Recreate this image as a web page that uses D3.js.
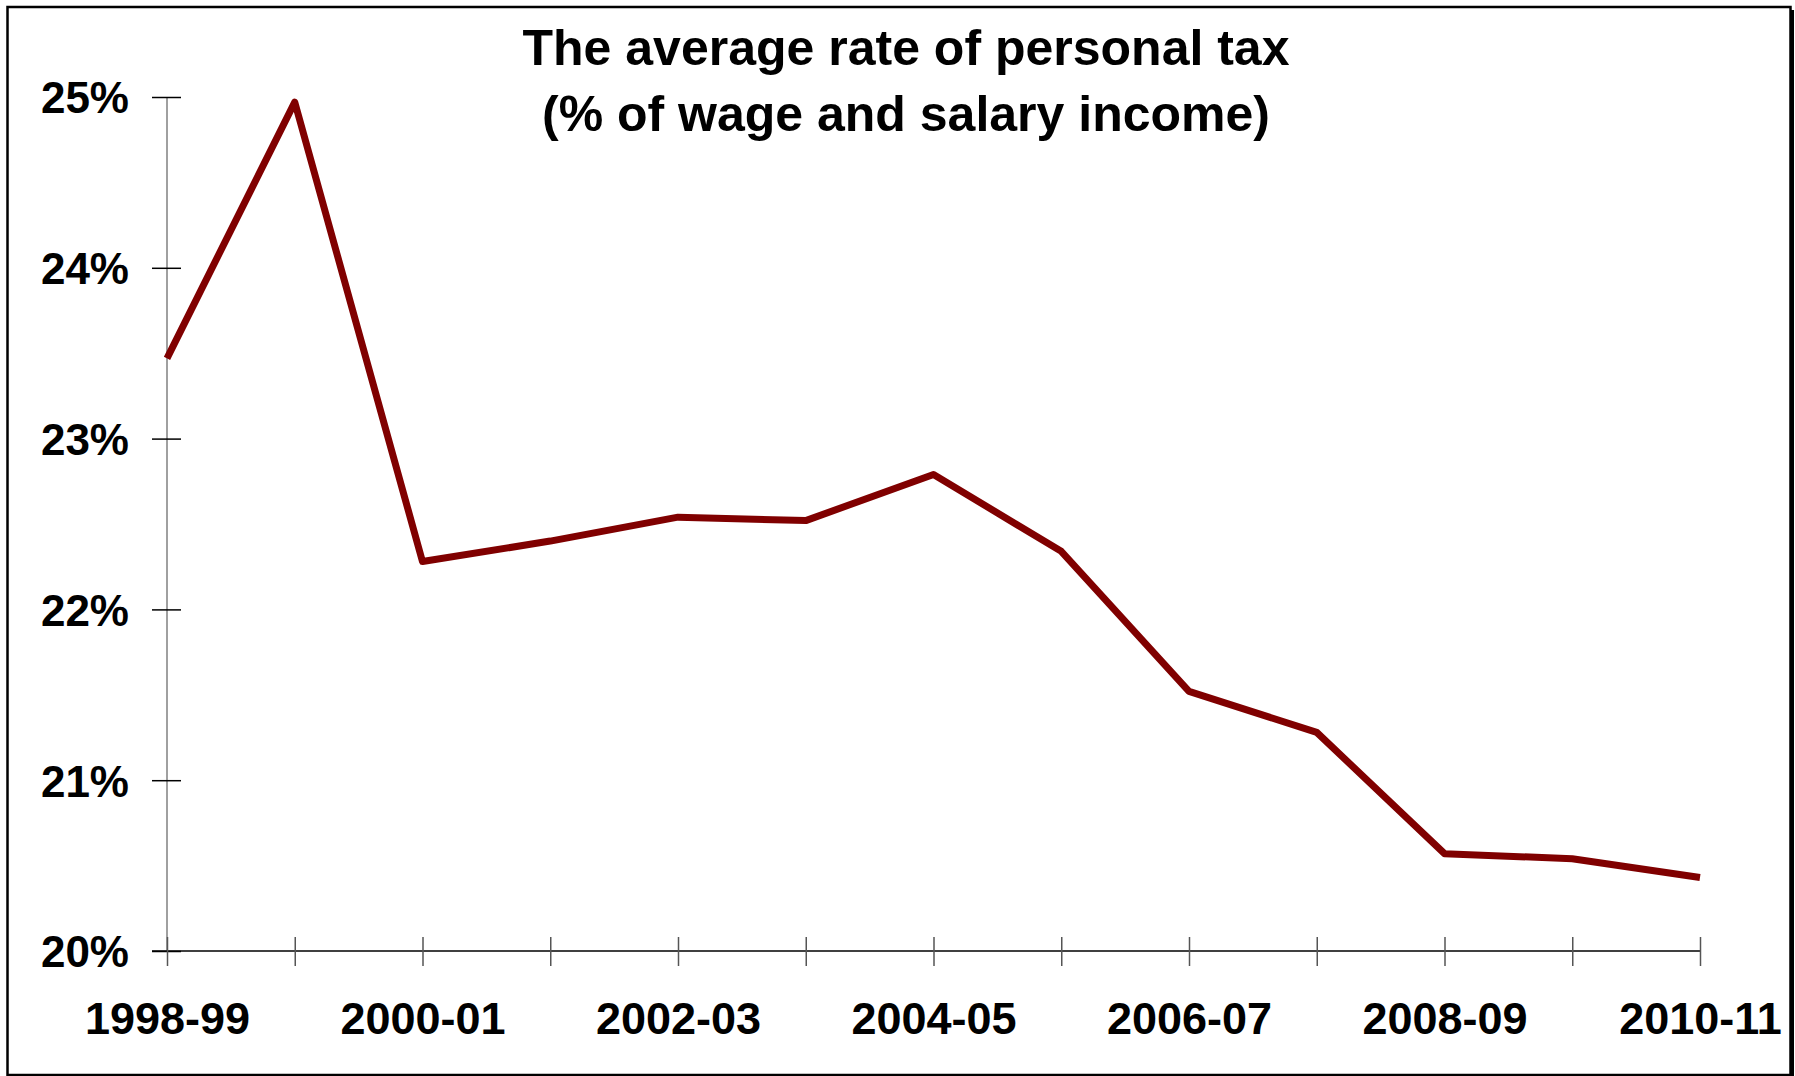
<!DOCTYPE html>
<html>
<head>
<meta charset="utf-8">
<script src="https://cdn.jsdelivr.net/npm/d3@7"></script>
<style>
  html, body { margin: 0; padding: 0; background: #fff; }
  svg { display: block; }
  text { font-family: "Liberation Sans", Arial, sans-serif; font-weight: bold; fill: #000; }
</style>
</head>
<body>
<svg id="chart" width="1795" height="1076"></svg>
<script>
// Financial years along the horizontal axis
const years = ["1998-99", "1999-00", "2000-01", "2001-02", "2002-03", "2003-04", "2004-05",
               "2005-06", "2006-07", "2007-08", "2008-09", "2009-10", "2010-11"];
// Average personal tax rate, % of wage and salary income
const taxRate = [23.47, 24.97, 22.28, 22.40, 22.54, 22.52, 22.79,
                 22.34, 21.52, 21.28, 20.57, 20.54, 20.43];
// Labelled years and percentage ticks
const yearLabels = ["1998-99", "2000-01", "2002-03", "2004-05", "2006-07", "2008-09", "2010-11"];
const rateTicks = [20, 21, 22, 23, 24, 25];
const titleLines = ["The average rate of personal tax", "(% of wage and salary income)"];

const svg = d3.select("#chart");
const plot = { left: 167, right: 1700, top: 97, bottom: 951 };

// Outer frame with a drop shadow on the right
svg.append("rect").attr("x", 1790).attr("y", 10).attr("width", 4).attr("height", 1066).attr("fill", "#000");
svg.append("rect").attr("x", 7.5).attr("y", 7).attr("width", 1783).attr("height", 1068)
  .attr("fill", "#fff").attr("stroke", "#000").attr("stroke-width", 2.5);

const x = d3.scalePoint().domain(years).range([plot.left, plot.right]);
const y = d3.scaleLinear().domain([20, 25]).range([plot.bottom, plot.top]);

// Y axis: ticks cross the axis line
const yAxis = svg.append("g").attr("transform", `translate(${plot.left},0)`)
  .call(d3.axisLeft(y).tickValues(rateTicks).tickSize(0).tickFormat(d => d + "%").tickPadding(38));
yAxis.select(".domain").attr("stroke", "#808080").attr("stroke-width", 1.5)
  .attr("d", `M0,${plot.top}V${plot.bottom}`);
yAxis.selectAll(".tick line").attr("x1", -15).attr("x2", 14).attr("stroke", "#000").attr("stroke-width", 1.5);
yAxis.selectAll(".tick text").style("font-size", "44px").attr("dy", "0.36em");

// X axis
const xAxis = svg.append("g").attr("transform", `translate(0,${plot.bottom})`)
  .call(d3.axisBottom(x).tickSize(0).tickFormat(d => yearLabels.includes(d) ? d : ""));
xAxis.select(".domain").attr("stroke", "#000").attr("stroke-width", 1.5)
  .attr("d", `M${plot.left - 15},0H${plot.right}`);
xAxis.selectAll(".tick line").attr("y1", -14).attr("y2", 15).attr("stroke", "#555").attr("stroke-width", 1.5);
xAxis.selectAll(".tick text").style("font-size", "45px").attr("y", 83).attr("dy", 0);

// Data line
const line = d3.line().x((d, i) => x(years[i])).y(d => y(d));
svg.append("path").datum(taxRate)
  .attr("d", line)
  .attr("fill", "none")
  .attr("stroke", "#800000")
  .attr("stroke-width", 7)
  .attr("stroke-linejoin", "round")
  .attr("stroke-linecap", "butt");

// Title
svg.append("g").selectAll("text").data(titleLines).join("text")
  .attr("x", 906)
  .attr("y", (d, i) => 65 + i * 66)
  .attr("text-anchor", "middle")
  .style("font-size", "50px")
  .text(d => d);
</script>
</body>
</html>
